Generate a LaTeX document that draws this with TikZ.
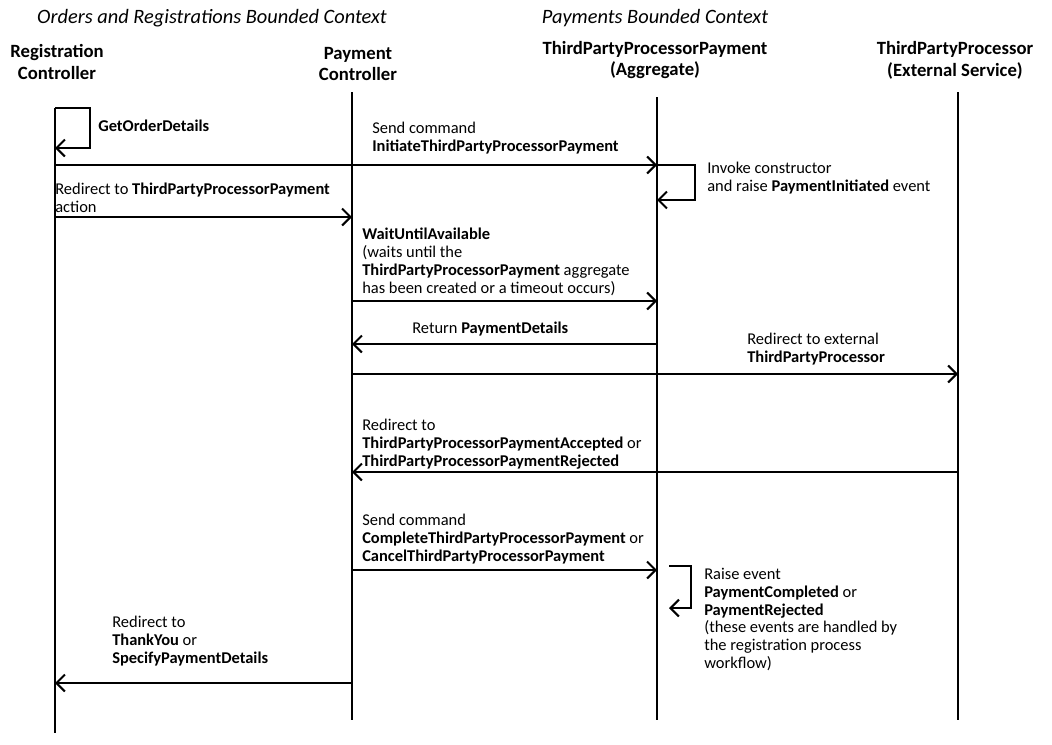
\documentclass[tikz,border=0pt]{standalone}
\usepackage{fontspec}
\setmainfont{Carlito}
\usetikzlibrary{positioning, arrows.meta}

\begin{document}
\begin{tikzpicture}[x=0.025cm, y=-0.025cm,
ctxnode/.style={font=\itshape\fontsize{14.5}{17}\selectfont},
headnode/.style={align=center, font=\bfseries\fontsize{13.3}{15.5}\selectfont},
lblnode/.style={anchor=north west, align=left, inner sep=0pt, font=\fontsize{11.7}{12.6}\selectfont},
lifeline/.style={line width=1.8pt},
msg/.style={-{Straight Barb[length=6pt, width=12pt]}, line width=1.5pt},
]
\useasboundingbox (0,0) rectangle (1052,744);
%headings
\node[ctxnode](ordctx) at (212,18) {Orders and Registrations Bounded Context};
\node[ctxnode](payctx) at (655,18) {Payments Bounded Context};
\node[headnode](rc) at (57,62) {Registration\\Controller};
\node[headnode](pc) at (358,64) {Payment\\Controller};
\node[headnode](agg) at (655,60) {ThirdPartyProcessorPayment\\(Aggregate)};
\node[headnode](tpp) at (955,60) {ThirdPartyProcessor\\(External Service)};
%lifelines
\coordinate (rcT) at (55,108); \coordinate (rcB) at (55,733);
\coordinate (pcT) at (352,92); \coordinate (pcB) at (352,720);
\coordinate (aggT) at (657,97); \coordinate (aggB) at (657,720);
\coordinate (tppT) at (958,92); \coordinate (tppB) at (958,720);
\foreach \l in {rc, pc, agg, tpp}
  \draw[lifeline] (\l T) -- (\l B);
%messages
\draw[msg] (rcT) -- ++(35,0) -- ++(0,40) -- ++(-35,0);
\node[lblnode](getord) at (98,120) {\textbf{GetOrderDetails}};
\draw[msg] (rcT |- 0,165) -- (aggT |- 0,165);
\node[lblnode](initcmd) at (372,122) {Send command\\\textbf{InitiateThirdPartyProcessorPayment}};
\draw[msg] (aggT |- 0,165) -- ++(38,0) -- ++(0,35) -- ++(-38,0);
\node[lblnode](invoke) at (707,162) {Invoke constructor\\and raise \textbf{PaymentInitiated} event};
\draw[msg] (rcT |- 0,217) -- (pcT |- 0,217);
\node[lblnode](redir) at (55,183) {Redirect to \textbf{ThirdPartyProcessorPayment}\\action};
\draw[msg] (pcT |- 0,301) -- (aggT |- 0,301);
\node[lblnode](wait) at (362,228) {\textbf{WaitUntilAvailable}\\(waits until the\\\textbf{ThirdPartyProcessorPayment} aggregate\\has been created or a timeout occurs)};
\draw[msg] (aggT |- 0,344) -- (pcT |- 0,344);
\node[lblnode](retdet) at (412,322) {Return \textbf{PaymentDetails}};
\draw[msg] (pcT |- 0,374) -- (tppT |- 0,374);
\node[lblnode](redext) at (747,333) {Redirect to external\\\textbf{ThirdPartyProcessor}};
\draw[msg] (tppT |- 0,472) -- (pcT |- 0,472);
\node[lblnode](redacc) at (362,419) {Redirect to\\\textbf{ThirdPartyProcessorPaymentAccepted} or\\\textbf{ThirdPartyProcessorPaymentRejected}};
\draw[msg] (pcT |- 0,570) -- (aggT |- 0,570);
\node[lblnode](compcmd) at (362,514) {Send command\\\textbf{CompleteThirdPartyProcessorPayment} or\\\textbf{CancelThirdPartyProcessorPayment}};
\draw[msg] (aggT |- 0,566) ++(12,0) -- ++(22,0) -- ++(0,42) -- ++(-22,0);
\node[lblnode](raise) at (704,568) {Raise event\\\textbf{PaymentCompleted} or\\\textbf{PaymentRejected}\\(these events are handled by\\the registration process\\workflow)};
\draw[msg] (pcT |- 0,683) -- (rcT |- 0,683);
\node[lblnode](thanks) at (112,616) {Redirect to\\\textbf{ThankYou} or\\\textbf{SpecifyPaymentDetails}};
\end{tikzpicture}
\end{document}
